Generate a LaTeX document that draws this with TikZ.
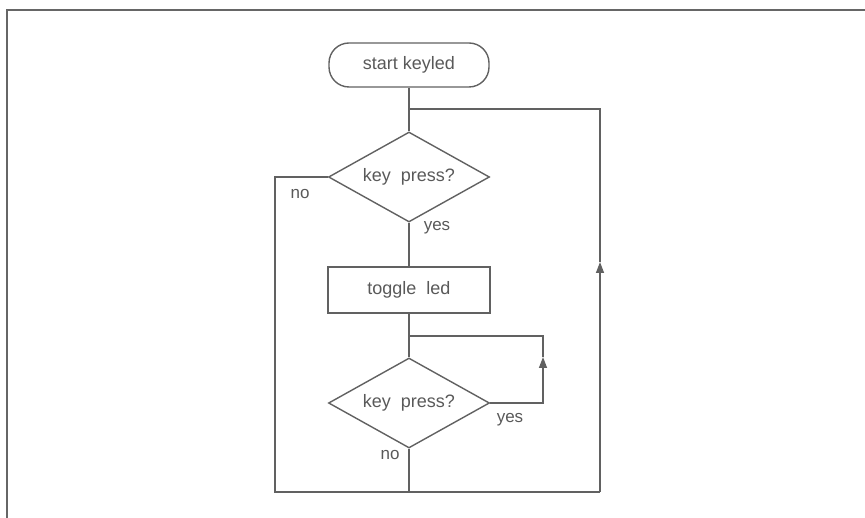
\documentclass[tikz,border=0pt]{standalone}
\usepackage{fontspec}
\setmainfont{Liberation Sans}
\usetikzlibrary{shapes.geometric,arrows.meta}
\begin{document}
\begin{tikzpicture}[x=1pt,y=-1pt]
			\tikzset{terminal/.style={rectangle, rounded corners=20pt, draw=linegray, line width=1.4pt, minimum width=160pt, minimum height=44pt, inner sep=0pt},
			process/.style={rectangle, draw=linegray, line width=1.4pt, minimum width=162pt, minimum height=46pt, inner sep=0pt},
			decision/.style={diamond, draw=linegray, line width=1.4pt, minimum width=161pt, minimum height=90pt, inner sep=0pt, aspect=1.79},
			fleche/.style={draw=linegray, line width=1.4pt},
			pointe/.style={fleche, -{Triangle[length=11pt,width=8pt]}},
			etiquette/.style={text=textgray, font=\fontsize{17}{17}\selectfont}};
			\colorlet{linegray}{black!62}
			\colorlet{textgray}{black!65}

			\useasboundingbox (0,0) rectangle (865,518);
			\draw[draw=black!60, line width=2pt] (7,518) -- (7,10) -- (865,10);

			\node[terminal, text=textgray, font=\fontsize{18}{18}\selectfont] (start) at (409,65) {start\ keyled};
			\node[decision, text=textgray, font=\fontsize{18}{18}\selectfont] (press1) at (409,177) {key\ \ press?};
			\node[process, text=textgray, font=\fontsize{18}{18}\selectfont] (toggle) at (409,290) {toggle\ \ led};
			\node[decision, text=textgray, font=\fontsize{18}{18}\selectfont] (press2) at (409,403) {key\ \ press?};

			\coordinate (j1) at (409,109);
			\coordinate (j2) at (409,336);
			\coordinate (l1) at (275,177);
			\coordinate (l2) at (275,492);
			\coordinate (b1) at (409,492);
			\coordinate (r1) at (600,109);
			\coordinate (r2) at (600,492);
			\coordinate (ra) at (600,262);
			\coordinate (s1) at (543,403);
			\coordinate (s2) at (543,336);
			\coordinate (sa) at (543,357);

			\foreach \i/\x/\y/\txt in {1/300/194/no, 2/437/228/yes, 3/510/420/yes, 4/390/455/no}{
				\node[etiquette] (lbl\i) at (\x,\y) {\txt};
			}

			\draw[fleche] (start) -- (press1) -- (toggle) -- (press2) -- (b1);
			\draw[fleche] (press1.west) -- (l1) -- (l2) -- (r2);
			\draw[pointe] (r2) -- (ra);
			\draw[fleche] (ra) -- (r1) -- (j1);
			\draw[pointe] (press2.east) -- (s1) -- (sa);
			\draw[fleche] (sa) -- (s2) -- (j2);

		\end{tikzpicture}
\end{document}
